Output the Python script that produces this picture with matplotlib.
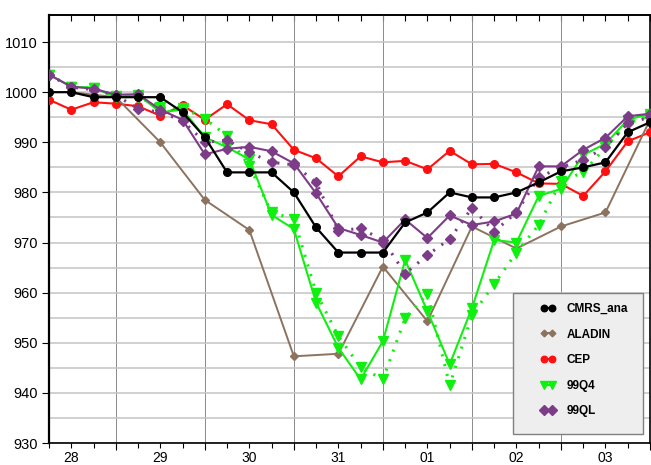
import numpy as np
import matplotlib
matplotlib.use('Agg')
import matplotlib.pyplot as plt
from matplotlib.patches import Rectangle

plt.rcParams['font.family'] = ['Liberation Sans', 'DejaVu Sans']

# time axis: hours since day 28 00 UTC, one value every 6 h
hours = np.arange(6, 169, 6)
day_labels = ['28', '29', '30', '31', '01', '02', '03']

cmrs_ana = [1000, 1000, 999, 999, 999, 999, 996, 991, 984, 984, 984, 980, 973, 968,
            968, 968, 974, 976, 980, 979, 979, 980, 982, 984.2, 985, 986, 992, 994]
cep = [998.5, 996.5, 998, 997.7, 997.2, 995.3, 997.4, 994.5, 997.6, 994.4, 993.6, 988.5,
       986.8, 983.2, 987.2, 986, 986.3, 984.6, 988.3, 985.6, 985.7, 984, 981.8, 981.7,
       979.3, 984.2, 990.2, 992]
q4 = [1003.5, 1001.1, 1000.9, 999, 999.5, 996, 996.5, 991, 989, 986.6, 975.5, 972.7,
      958, 949, 942.7, 950.3, 966.5, 956.3, 945.7, 956.9, 970.5, 970, 979.3, 980.7,
      987.5, 989.7, 994.5, 995.7]
q4_dot = [1003.5, 1001, 1000.8, 999.2, 999, 997.1, 996.9, 994.7, 991.3, 985.3, 976,
          974.7, 960, 951.3, 945.1, 942.7, 954.9, 959.8, 941.5, 955.5, 961.7, 968,
          973.5, 982.2, 984, 989, 993.8, 995.3]
ql = [1003.5, 1001.1, 1000.7, 999.5, 999.6, 996.5, 994.5, 987.6, 988.7, 989.1, 988.2,
      985.8, 979.8, 972.9, 971.5, 970, 974.6, 970.9, 975.4, 973.5, 974.2, 975.8, 985.2,
      985.2, 988.5, 990.9, 995.2, 995.7]
ql_dot = [1003.5, 1001, 1000.5, 999.4, 996.7, 996, 994.3, 990, 990.4, 988, 986, 985.5,
          982, 972.4, 972.8, 970.5, 963.8, 967.5, 970.7, 976.9, 972.2, 976, 983, 985,
          986.5, 989, 993.8, 995]
aladin_hours = np.arange(12, 169, 12)
aladin = [1000, 999, 990, 978.5, 972.5, 947.3, 947.8, 965.2, 954.3, 973.2, 968.8,
          973.2, 976, 994.5]

c_brown = '#8c735f'
c_red = '#ff1010'
c_green = '#10f010'
c_purple = '#7d3c87'

fig = plt.figure(figsize=(6.51, 4.65), dpi=100)
ax = fig.add_axes([49 / 651, 1 - 443 / 465, 601 / 651, 428 / 465])

dot = (0, (0.7, 2.6))
ax.plot(hours, cep, color=c_red, lw=1.5, marker='o', ms=5.5, label='CEP', zorder=3)
ax.plot(aladin_hours, aladin, color=c_brown, lw=1.4, marker='D', ms=4, label='ALADIN', zorder=3)
ax.plot(hours, q4_dot, color=c_green, lw=2.2, ls=dot, marker='v', ms=6.5, zorder=4)
ax.plot(hours, q4, color=c_green, lw=1.5, marker='v', ms=6.5, label='99Q4', zorder=4)
ax.plot(hours, ql_dot, color=c_purple, lw=2.2, ls=dot, marker='D', ms=5.5, zorder=5)
ax.plot(hours, ql, color=c_purple, lw=1.5, marker='D', ms=5.5, label='99QL', zorder=5)
ax.plot(hours, cmrs_ana, color='black', lw=1.6, marker='o', ms=5.5, label='CMRS_ana', zorder=6)

ax.set_xlim(6, 168)
ax.set_ylim(930, 1015.4)

# x ticks: every 6 h, labels at 12 UTC, grid lines at day boundaries
day_bounds = np.arange(24, 169, 24)
six_h = [h for h in np.arange(6, 169, 6) if h % 24 != 0]
lab_pos = np.arange(12, 169, 24)
ax.set_xticks(six_h)
ax.set_xticklabels([day_labels[list(lab_pos).index(h)] if h in lab_pos else '' for h in six_h])
ax.set_xticks(day_bounds, minor=True)
ax.tick_params(axis='x', which='major', direction='out', length=3.5, width=0.8, pad=2.5, labelsize=10)
ax.tick_params(axis='x', which='minor', direction='out', length=5, width=0.8)
ax.xaxis.grid(True, which='minor', color='#8a8a8a', lw=0.7)

ax.set_yticks(np.arange(930, 1011, 10))
ax.set_yticks(np.arange(935, 1015, 10), minor=True)
ax.tick_params(axis='y', which='major', direction='out', length=5, width=0.8, pad=3, labelsize=10.5)
ax.tick_params(axis='y', which='minor', length=0)
ax.yaxis.grid(True, which='both', color='#c4c4c4', lw=1.1)
ax.set_axisbelow(True)

top = ax.secondary_xaxis('top')
top.set_xticks(np.arange(6, 169, 6))
top.tick_params(direction='in', length=4, width=0.8, labeltop=False)

ax.spines['left'].set_linewidth(1.6)
ax.spines['bottom'].set_linewidth(1.2)
ax.spines['top'].set_linewidth(1.2)
ax.spines['right'].set_linewidth(1.2)
top.spines['top'].set_linewidth(1.2)

# legend box
box = Rectangle((0.772, 0.021), 0.216, 0.329, transform=ax.transAxes,
                facecolor='#eeeeee', edgecolor='#808080', lw=1.0, zorder=7)
ax.add_patch(box)
handles, labels = ax.get_legend_handles_labels()
order = ['CMRS_ana', 'ALADIN', 'CEP', '99Q4', '99QL']
hmap = dict(zip(labels, handles))
leg = ax.legend([hmap[k] for k in order], order, loc='upper left',
                bbox_to_anchor=(0.80, 0.352), frameon=False, numpoints=2,
                markerscale=0.85, handlelength=1.3, handletextpad=0.9,
                labelspacing=1.15, prop={'weight': 'bold', 'size': 8.5})
leg.set_zorder(8)

fig.savefig('out.png', dpi=100)
